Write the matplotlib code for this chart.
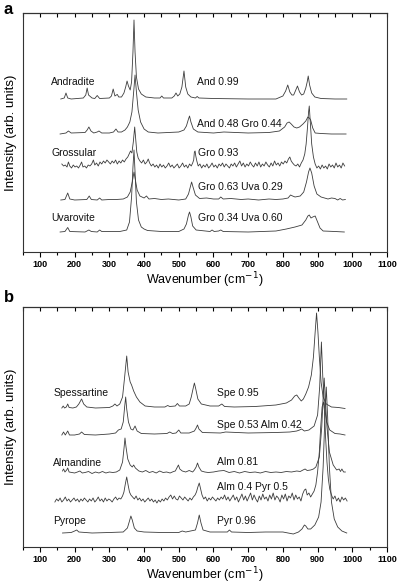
import matplotlib
matplotlib.use("Agg")
import matplotlib.pyplot as plt
from matplotlib.ticker import MultipleLocator

plt.rcParams['font.family'] = ['Liberation Sans', 'DejaVu Sans']

# ---- panel a spectra (wavenumber, intensity in arb. units incl. offset) ----
and_x = [160, 170, 175, 180, 190, 225, 232, 236, 240, 250, 258, 265, 272, 300, 306, 311, 316, 320, 323, 327,
         335, 342, 347, 351, 355, 360, 364, 368, 371, 374, 378, 384, 392, 405, 430, 446, 451, 456, 480, 487,
         492, 497, 503, 509, 515, 520, 526, 535, 548, 553, 558, 600, 700, 780, 800, 808, 814, 820, 826, 831,
         836, 842, 848, 854, 860, 866, 870, 873, 877, 883, 892, 910, 950, 984]
and_y = [153, 154, 159, 154, 153, 154, 157, 164, 157, 154, 153.5, 156.5, 153.5, 154, 156, 163, 156, 157, 157.5, 155,
         155, 159, 165, 171, 166, 162, 170, 200, 232, 200, 175, 163, 158, 155, 154, 154, 156, 154, 154, 156,
         159, 156, 158, 165, 181, 165, 158, 155, 154, 155.5, 154, 153.5, 153, 153, 156, 161, 167, 160, 157, 157,
         161, 166, 160, 157, 158, 164, 170, 176, 167, 159, 155, 153.5, 153, 153]

ag_x = [158, 175, 182, 190, 230, 236, 241, 247, 255, 265, 270, 278, 300, 312, 319, 325, 335, 345, 352, 359,
        365, 370, 374, 378, 383, 390, 400, 412, 440, 470, 500, 515, 522, 528, 531, 535, 542, 555, 600, 630,
        700, 760, 790, 805, 812, 818, 824, 832, 840, 848, 858, 866, 872, 876, 880, 886, 893, 910, 940, 982]
ag_y = [118, 119, 121, 119, 119.5, 122, 125, 121, 119, 120, 121, 119, 119, 120, 123, 120, 120, 122, 125, 130,
        140, 160, 177, 160, 142, 130, 123, 120, 119, 119.5, 120, 122, 126, 133, 136, 130, 123, 120, 119, 120,
        119, 119.5, 121, 125, 129, 130, 128, 125, 124, 125, 128, 131, 135, 134, 132, 124, 119, 118.5, 118, 118]

grs_x = [163, 168, 173, 178, 182, 186, 191, 196, 201, 206, 211, 216, 220, 224, 229, 234, 239, 244, 249, 254,
         258, 263, 268, 273, 278, 283, 288, 293, 298, 303, 308, 313, 318, 323, 328, 333, 338, 343, 348, 353,
         357, 361, 365, 369, 373, 376, 379, 383, 388, 393, 398, 403, 408, 412, 416, 421, 426, 431, 436, 441,
         446, 451, 456, 461, 466, 471, 476, 481, 486, 491, 496, 501, 506, 511, 516, 521, 526, 531, 536, 540,
         543, 545, 547, 549, 552, 556, 561, 566, 571, 576, 581, 586, 591, 596, 601, 606, 611, 616, 621, 626,
         631, 636, 641, 646, 651, 656, 661, 666, 671, 676, 681, 686, 691, 696, 701, 706, 711, 716, 721, 726,
         731, 736, 741, 746, 751, 756, 761, 766, 771, 776, 781, 786, 791, 796, 801, 806, 811, 816, 820, 824,
         828, 833, 838, 843, 848, 853, 858, 863, 867, 871, 874, 876, 879, 883, 888, 893, 898, 903, 908, 913,
         918, 923, 928, 933, 938, 943, 948, 953, 958, 963, 968, 973, 978]
grs_y = [88, 86, 87, 85, 90, 86, 84, 87, 85, 86, 84, 87, 90, 85, 86, 84, 87, 86, 88, 92,
         87, 89, 86, 90, 88, 91, 89, 92, 90, 88, 91, 89, 92, 88, 91, 89, 92, 90, 93, 95,
         98, 101, 99, 110, 125, 112, 100, 94, 91, 89, 92, 88, 90, 93, 89, 86, 88, 85, 87, 84,
         88, 85, 87, 84, 86, 89, 85, 87, 84, 86, 88, 84, 86, 89, 85, 87, 84, 88, 86, 89,
         92, 100, 101, 96, 91, 86, 88, 84, 87, 85, 88, 84, 86, 89, 85, 87, 84, 88, 86, 89,
         85, 88, 86, 84, 88, 86, 89, 85, 88, 91, 86, 89, 85, 88, 86, 90, 87, 85, 89, 86,
         90, 85, 88, 86, 90, 87, 85, 89, 86, 91, 87, 89, 86, 90, 88, 91, 89, 93, 95, 91,
         89, 87, 86, 88, 85, 89, 92, 98, 108, 125, 140, 146, 130, 108, 95, 88, 84, 86, 83, 87,
         84, 86, 83, 88, 85, 87, 84, 89, 85, 87, 84, 89, 86]

gu1_x = [160, 172, 180, 186, 200, 235, 242, 248, 265, 272, 278, 300, 320, 340, 352, 360, 366, 371, 375, 380,
         388, 400, 407, 414, 430, 450, 470, 500, 520, 528, 534, 537, 541, 548, 560, 580, 600, 615, 621, 628,
         650, 680, 700, 730, 760, 780, 800, 815, 822, 828, 835, 850, 860, 868, 874, 878, 883, 890, 898, 910,
         920, 930, 940, 950, 958, 965, 972, 980]
gu1_y = [52, 52.5, 59, 53, 52, 52.5, 56, 52.5, 52, 54, 52, 52.5, 52.5, 53, 55, 60, 70, 80, 72, 62,
         56, 54, 56, 53, 53.5, 52.5, 53, 52, 53, 58, 66, 70, 65, 57, 53.5, 54, 53, 53, 55, 53,
         53.5, 52.5, 53, 52, 53, 52.5, 53, 54, 57, 56, 55, 56, 60, 70, 80, 84, 79, 66, 58, 55,
         54, 53, 54, 53.5, 52, 53.5, 52, 52.5]

uva_x = [158, 172, 180, 186, 230, 241, 248, 265, 272, 278, 330, 350, 358, 364, 368, 371, 374, 378, 384, 392,
         400, 410, 450, 500, 515, 522, 528, 531, 535, 540, 550, 590, 596, 602, 615, 621, 628, 700, 780, 810,
         835, 855, 866, 872, 876, 881, 886, 893, 900, 907, 916, 950, 977]
uva_y = [20, 20.5, 24.5, 20.5, 20, 22, 20.5, 20, 22, 20.5, 20.5, 22, 30, 55, 85, 102, 80, 50, 32, 25,
         23, 21.5, 20.5, 20.5, 23, 28, 37, 40, 35, 26, 22, 20.5, 22, 20.5, 21, 22, 20.5, 20, 21, 23,
         25, 27, 32, 36, 37, 34, 35, 36, 30, 24, 21, 20.5, 20]

# ---- panel b spectra ----
sps_x = [163, 167, 171, 176, 180, 184, 195, 205, 212, 220, 226, 235, 260, 300, 310, 316, 322, 330, 338, 344,
         350, 354, 360, 364, 370, 378, 388, 403, 430, 460, 468, 474, 490, 496, 502, 520, 530, 536, 541, 545,
         549, 555, 565, 590, 615, 624, 632, 660, 720, 780, 810, 825, 834, 840, 846, 853, 859, 866, 874, 882,
         888, 893, 897, 901, 905, 910, 916, 925, 940, 960, 979]
sps_y = [139, 141, 139, 140, 143, 139.5, 139, 140, 143, 148, 143, 140, 139, 139.5, 141, 143, 141, 143, 150, 170,
         191, 175, 165, 162, 156, 150, 145, 141, 140, 140, 141.5, 140.5, 141, 143.5, 141, 141, 143, 150, 158, 164,
         158, 148, 143, 141, 141, 143, 140.5, 140, 140.5, 142, 144, 147, 151, 152, 149, 146, 148, 153, 160, 172,
         190, 215, 234, 215, 190, 165, 150, 143, 140, 139.5, 138.5]

sa_x = [163, 168, 173, 180, 185, 200, 214, 220, 228, 260, 300, 318, 326, 334, 340, 344, 347, 350, 355, 362,
        368, 374, 380, 392, 430, 466, 474, 482, 492, 500, 506, 530, 545, 550, 554, 558, 568, 620, 635, 700,
        780, 820, 840, 848, 854, 862, 875, 890, 900, 906, 911, 915, 920, 926, 935, 950, 965, 979]
sa_y = [112, 115, 112, 116, 112, 112, 113, 115, 112.5, 112, 113, 114, 117, 118, 125, 140, 150, 138, 125, 118,
        117, 121, 116, 113.5, 113, 113.5, 115, 113.5, 114, 117, 114, 114, 116, 119, 122, 118, 114.5, 114, 115, 114,
        114.5, 115, 116, 117, 118, 116, 117, 121, 132, 160, 205, 170, 140, 125, 117, 113.5, 113, 112]

alm_x = [165, 168, 172, 177, 180, 184, 192, 200, 208, 215, 222, 230, 240, 250, 260, 270, 280, 290, 300, 310,
         320, 330, 338, 342, 345, 348, 353, 360, 366, 370, 375, 385, 395, 405, 415, 425, 435, 445, 455, 465,
         475, 485, 490, 496, 499, 503, 510, 520, 530, 540, 545, 550, 554, 558, 565, 575, 585, 600, 615, 630,
         645, 660, 675, 690, 705, 720, 735, 750, 765, 780, 795, 810, 825, 840, 850, 858, 864, 870, 880, 888,
         895, 905, 912, 916, 919, 922, 927, 934, 945, 955, 962, 966, 970, 975, 980]
alm_y = [76, 78, 75, 77, 79, 75, 74.5, 74, 75, 76, 74, 74.5, 75.5, 73.5, 75, 74, 75.5, 74, 75, 74.5,
         75, 77, 85, 98, 109, 100, 88, 82, 80, 82, 79, 76, 75, 76.5, 74.5, 75.5, 74, 76, 74.5, 75,
         74, 75.5, 76, 80, 82, 78, 76, 75, 76.5, 75, 77, 80, 84, 80, 76, 75, 74.5, 75, 76, 76.5,
         74.5, 75.5, 74, 75.5, 74.5, 75, 74, 75.5, 74.5, 75, 74.5, 75.5, 75, 76, 75.5, 77, 78, 76.5, 77, 78,
         80, 90, 120, 150, 169, 150, 120, 95, 82, 77, 78, 75.5, 78, 75, 75]

ap_x = [143, 148, 153, 158, 163, 168, 173, 178, 183, 188, 193, 198, 203, 208, 213, 218, 223, 228, 233, 238,
        243, 248, 253, 258, 263, 268, 273, 278, 283, 288, 293, 298, 303, 308, 313, 318, 323, 328, 333, 338,
        342, 346, 350, 354, 358, 362, 367, 372, 377, 382, 387, 392, 397, 402, 407, 412, 417, 422, 427, 432,
        437, 442, 447, 452, 457, 462, 467, 472, 477, 482, 487, 492, 497, 502, 507, 512, 517, 522, 527, 532,
        537, 542, 547, 551, 555, 559, 563, 567, 572, 577, 582, 587, 592, 597, 602, 607, 612, 617, 622, 627,
        632, 637, 642, 647, 652, 657, 662, 667, 672, 677, 682, 687, 692, 697, 702, 707, 712, 717, 722, 727,
        732, 737, 742, 747, 752, 757, 762, 767, 772, 777, 782, 787, 792, 797, 802, 807, 812, 817, 822, 827,
        832, 837, 842, 847, 852, 857, 862, 866, 870, 875, 880, 885, 890, 895, 900, 905, 909, 913, 917, 920,
        923, 927, 931, 935, 940, 945, 950, 955, 960, 965, 970, 975, 980, 985]
ap_y = [45, 48, 46, 49, 45, 47, 50, 46, 48, 45, 47, 49, 46, 48, 45, 48, 46, 49, 47, 45,
        48, 46, 49, 45, 47, 50, 46, 48, 45, 49, 46, 48, 47, 45, 48, 50, 47, 49, 48, 51,
        55, 63, 70, 62, 55, 52, 50, 48, 51, 47, 49, 46, 48, 45, 47, 49, 46, 48, 45, 47,
        44, 47, 45, 48, 46, 49, 47, 50, 52, 48, 51, 48, 47, 51, 49, 47, 50, 48, 46, 49,
        47, 50, 52, 55, 60, 64, 58, 52, 48, 50, 46, 49, 47, 50, 48, 46, 49, 47, 50, 48,
        52, 47, 50, 46, 49, 52, 47, 50, 45, 49, 53, 47, 51, 46, 50, 54, 47, 52, 48, 45,
        51, 47, 53, 48, 50, 46, 52, 48, 54, 47, 51, 49, 45, 52, 48, 53, 46, 51, 49, 54,
        47, 52, 48, 50, 46, 53, 57, 58, 52, 54, 50, 53, 56, 62, 75, 95, 120, 140, 145, 135,
        110, 85, 68, 58, 52, 48, 51, 46, 49, 45, 50, 47, 49, 46]

pyr_x = [165, 190, 200, 206, 212, 250, 300, 340, 352, 358, 362, 366, 372, 380, 400, 450, 500, 510, 520, 548,
         554, 559, 564, 570, 590, 640, 646, 652, 700, 750, 800, 830, 845, 855, 862, 866, 872, 880, 892, 903,
         910, 916, 921, 925, 929, 934, 940, 948, 958, 970, 984]
pyr_y = [14, 14.5, 16, 17, 15, 14, 14.5, 15, 19, 26, 31, 27, 19, 16, 15, 14.5, 14.5, 16, 15, 17,
         24, 32, 24, 17, 15, 15, 17, 15, 14.5, 15, 15, 13, 15, 18, 22, 21, 18, 18, 22, 30,
         45, 80, 130, 160, 130, 80, 45, 28, 20, 16, 14]

spectra_a = [(and_x, and_y), (ag_x, ag_y), (grs_x, grs_y), (gu1_x, gu1_y), (uva_x, uva_y)]
spectra_b = [(sps_x, sps_y), (sa_x, sa_y), (alm_x, alm_y), (ap_x, ap_y), (pyr_x, pyr_y)]

# labels: (text, x, y)
labels_a = [("Andradite", 132, 170), ("And 0.99", 553, 170), ("And 0.48 Gro 0.44", 553, 128),
            ("Grossular", 132, 99), ("Gro 0.93", 554, 99), ("Gro 0.63 Uva 0.29", 554, 65),
            ("Uvarovite", 132, 34), ("Gro 0.34 Uva 0.60", 554, 34)]
labels_b = [("Spessartine", 138, 154), ("Spe 0.95", 609, 154), ("Spe 0.53 Alm 0.42", 609, 122),
            ("Almandine", 138, 84), ("Alm 0.81", 609, 85), ("Alm 0.4 Pyr 0.5", 609, 60),
            ("Pyrope", 138, 26), ("Pyr 0.96", 609, 26)]

line_col = '#3c3c3c'
W, H = 397, 585
fig = plt.figure(figsize=(W / 100, H / 100), dpi=100)

ax_a = fig.add_axes([22.6 / W, 1 - 252 / H, (387 - 22.6) / W, 239 / H])
ax_b = fig.add_axes([22.6 / W, 1 - 547 / H, (387 - 22.6) / W, 240 / H])

for ax, spectra, labels, ymax in [(ax_a, spectra_a, labels_a, 239), (ax_b, spectra_b, labels_b, 240)]:
    for xs, ys in spectra:
        ax.plot(xs, ys, color=line_col, lw=0.6)
    for txt, x, y in labels:
        ax.text(x, y, txt, fontsize=7.5, va='center', ha='left', color='#111111')
    ax.set_xlim(50, 1100)
    ax.set_ylim(0, ymax)
    ax.set_yticks([])
    ax.set_xticks(range(100, 1101, 100))
    ax.xaxis.set_minor_locator(MultipleLocator(50))
    ax.tick_params(axis='x', which='major', direction='out', length=3.5, width=0.8,
                   labelsize=6.5, pad=2)
    ax.tick_params(axis='x', which='minor', direction='out', length=2, width=0.8)
    for lab in ax.get_xticklabels():
        lab.set_fontweight('bold')
    for sp in ax.spines.values():
        sp.set_linewidth(0.8)
        sp.set_color('#333333')
    top = ax.secondary_xaxis('top')
    top.xaxis.set_major_locator(MultipleLocator(50))
    top.tick_params(axis='x', direction='in', length=3, width=0.8, labeltop=False)
    top.spines['top'].set_linewidth(0.8)
    ax.set_xlabel("Wavenumber (cm$^{-1}$)", fontsize=9, labelpad=1.5)
    ax.set_ylabel("Intensity (arb. units)", fontsize=9.5, labelpad=4)

fig.text(4 / W, 1 - 9 / H, 'a', fontsize=12, fontweight='bold', va='center')
fig.text(4 / W, 1 - 297 / H, 'b', fontsize=12, fontweight='bold', va='center')

fig.savefig('out.png', dpi=100)
